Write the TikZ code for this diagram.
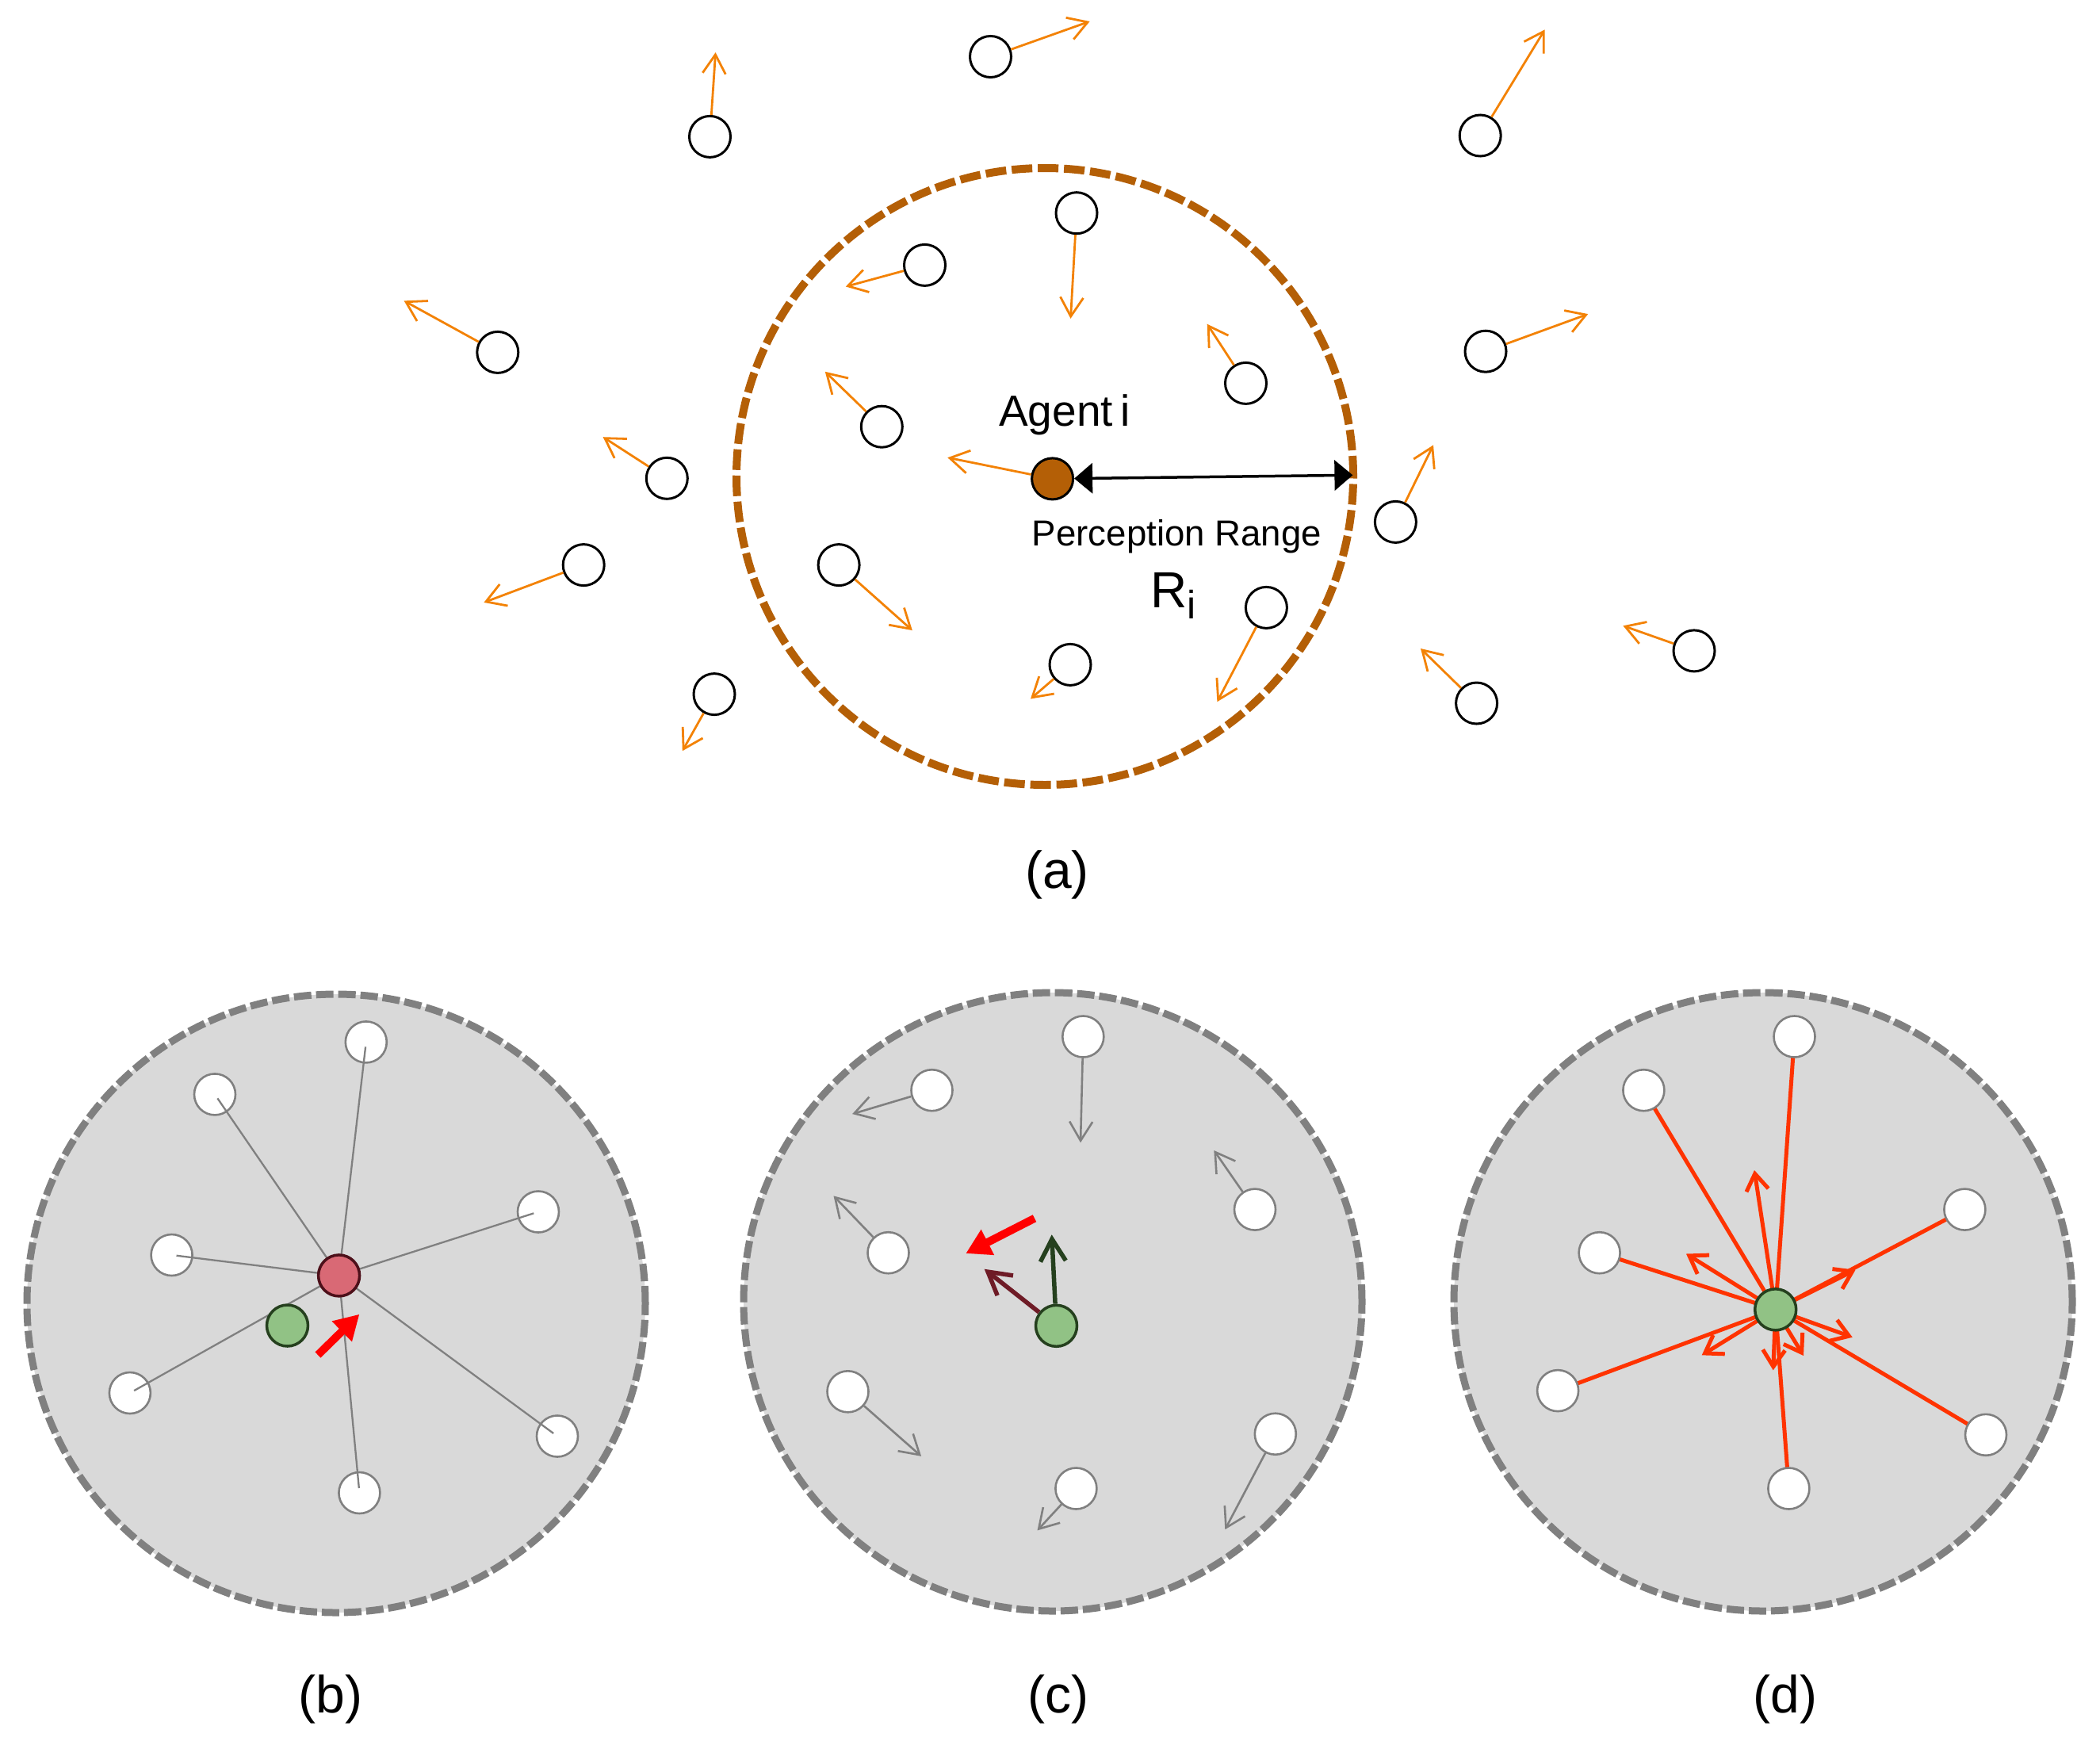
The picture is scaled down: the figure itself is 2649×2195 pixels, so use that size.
\documentclass[tikz,border=0pt]{standalone}
\usepackage{fontspec}
\setmainfont{Liberation Sans}
\usetikzlibrary{arrows.meta}
\definecolor{brn}{RGB}{180,95,6}
\definecolor{org}{RGB}{243,130,5}
\definecolor{gr}{RGB}{128,128,128}
\definecolor{lgr}{RGB}{217,217,217}
\definecolor{pinkn}{RGB}{217,105,117}
\definecolor{pinkb}{RGB}{77,16,26}
\definecolor{grn}{RGB}{145,194,133}
\definecolor{grnb}{RGB}{37,64,30}
\definecolor{dred}{RGB}{110,27,38}
\definecolor{rorg}{RGB}{255,51,0}
\tikzset{
  agent/.style={circle,draw=black,line width=3pt,fill=white,minimum size=52pt,inner sep=0pt},
  agenti/.style={agent,fill=brn},
  wnode/.style={circle,draw=gr,line width=2.6pt,fill=white,minimum size=52pt,inner sep=0pt},
  gnode/.style={circle,draw=grnb,line width=3.5pt,fill=grn,minimum size=52pt,inner sep=0pt},
  pnode/.style={circle,draw=pinkb,line width=3.5pt,fill=pinkn,minimum size=52pt,inner sep=0pt},
  oarr/.style={draw=org,line width=2.8pt,-{Straight Barb[length=24pt,width=29pt]}},
  garr/.style={draw=gr,line width=2.6pt,-{Straight Barb[length=24pt,width=29pt]}},
  darr/.style={draw=rorg,line width=5pt,-{Straight Barb[length=21pt,width=28pt]}},
  dline/.style={draw=rorg,line width=5pt},
  bline/.style={draw=gr,line width=2.3pt,shorten >=6pt},
  blockarr/.style={draw=red,line width=10pt,-{Triangle[length=31pt,width=34pt]}},
  thickarr/.style={line width=5.5pt,-{Straight Barb[length=28pt,width=32pt]}},
  panel/.style={draw=gr,fill=lgr,line width=9pt,dash pattern=on 22pt off 6pt},
  lbl/.style={inner sep=0pt,anchor=base,font=\fontsize{66pt}{70pt}\selectfont}
}
\begin{document}
\begin{tikzpicture}[x=1pt,y=-1pt]
\useasboundingbox (0,0) rectangle (2649,2195);

% ---------------- (a) ----------------
\draw[brn,line width=10pt,dash pattern=on 26pt off 7pt] (1318,601) circle[radius=389pt];
\foreach \n/\x/\y/\u/\v in {
  1/895.5/172.4/902.6/66.1,
  2/1249.5/71.5/1374.6/27,
  3/1867.2/171/1948.7/37.3,
  4/1358/268.7/1350.5/401.8,
  5/1166.5/334.4/1066.8/361.5,
  6/627.8/444.4/509.6/379.4,
  7/1874/443.2/2003.2/396.1,
  8/1571.5/483.4/1522.7/408.7,
  9/1112.3/538.2/1040.8/468.8,
  10/841.3/603.3/760.6/551.2,
  12/1760.4/658.4/1808/561.4,
  13/736.2/712.6/610.4/759.9,
  14/1058.1/712.6/1150.8/795.1,
  15/1597.4/766.4/1535.4/885.2,
  16/1350/838.4/1300/881.5,
  17/901/875.6/860.8/947.2,
  18/1862.6/887/1792/818,
  19/2137/820.9/2047.4/789.3}{
  \node[agent] (a\n) at (\x,\y) {};
  \coordinate (ta\n) at (\u,\v);
  \draw[oarr] (a\n) -- (ta\n);
}
\node[agenti] (ai) at (1327.6,603.9) {};
\coordinate (tai) at (1195.3,577.2);
\draw[oarr] (ai) -- (tai);
\coordinate (rr) at (1706.4,599.3);
\draw[line width=3.5pt,{Triangle[length=23pt,width=38pt]}-{Triangle[length=23pt,width=38pt]}] (ai) -- (rr);

\node[anchor=base west,inner sep=0pt,font=\fontsize{55pt}{60pt}\selectfont] (lag) at (1260,537) {Agent\hspace{0.18em}i};
\node[anchor=base,inner sep=0pt,font=\fontsize{45.6pt}{50pt}\selectfont] (lpr) at (1484.5,688) {Perception Range};
\node[anchor=base west,inner sep=0pt,font=\fontsize{64pt}{70pt}\selectfont] (lr) at (1451,766) {R\raisebox{-14pt}{\fontsize{50pt}{50pt}\selectfont i}};
\node[lbl] (la) at (1333.5,1120) {(a)};

% ---------------- (b) ----------------
\draw[panel] (424,1644) circle[radius=390pt];
\foreach \n/\x/\y in {1/461.8/1314.4, 2/271/1380.4, 3/679/1528.5, 4/216.6/1583,
  5/163.9/1757, 6/703/1811.5, 7/453.4/1883}{
  \node[wnode] (b\n) at (\x,\y) {};
}
\coordinate (bc) at (427.6,1608.9);
\foreach \n in {1,...,7}{ \draw[bline] (bc) -- (b\n.center); }
\node[pnode] (br) at (bc) {};
\node[gnode] (bg) at (362.5,1672) {};
\coordinate (bat) at (401,1709);
\coordinate (bah) at (453.4,1657.7);
\draw[blockarr] (bat) -- (bah);
\node[lbl] (lb) at (417,2160) {(b)};

% ---------------- (c) ----------------
\draw[panel] (1328,1642) circle[radius=390pt];
\foreach \n/\x/\y/\u/\v in {
  1/1366.3/1307.5/1363/1441.3,
  2/1175.5/1375.2/1075.1/1405.1,
  3/1583/1525.6/1531.3/1451,
  4/1120.5/1580.2/1051.5/1508.4,
  5/1069.5/1755.3/1162.1/1836.8,
  6/1608.8/1808.7/1545.3/1929.2,
  7/1357.4/1877.5/1308.5/1930.4}{
  \node[wnode] (c\n) at (\x,\y) {};
  \coordinate (tc\n) at (\u,\v);
  \draw[garr] (c\n) -- (tc\n);
}
\node[gnode] (cg) at (1332.5,1672.3) {};
\coordinate (cgt) at (1326.7,1557.3);
\coordinate (crt) at (1241.7,1600.7);
\draw[thickarr,draw=grnb] (cg) -- (cgt);
\draw[thickarr,draw=dred] (cg) -- (crt);
\coordinate (cat) at (1305,1536.7);
\coordinate (cah) at (1218.3,1581);
\draw[blockarr] (cat) -- (cah);
\node[lbl] (lc) at (1335,2160) {(c)};

% ---------------- (d) ----------------
\draw[panel] (2224,1642) circle[radius=390pt];
\coordinate (dc) at (2239.7,1651.8);
\foreach \n/\x/\y in {1/2263.5/1307.5, 2/2073.4/1375.2, 3/2478.4/1525.6, 4/2017.6/1580.2,
  5/1965.1/1754.1, 6/2505/1809.8, 7/2256.4/1877.5}{
  \coordinate (dp\n) at (\x,\y);
  \draw[dline] (dc) -- (dp\n);
}
\foreach \n/\x/\y in {1/2263.5/1307.5, 2/2073.4/1375.2, 3/2478.4/1525.6, 4/2017.6/1580.2,
  5/1965.1/1754.1, 6/2505/1809.8, 7/2256.4/1877.5}{
  \node[wnode] (d\n) at (\x,\y) {};
}
\foreach \n/\x/\y in {1/2213/1476, 2/2127/1581.5, 3/2340.5/1601.8, 4/2336.7/1686.7,
  5/2146.7/1709.3, 6/2275/1710, 7/2236.7/1728.3}{
  \coordinate (td\n) at (\x,\y);
  \draw[darr] (dc) -- (td\n);
}
\node[gnode] (dg) at (dc) {};
\node[lbl] (ld) at (2252,2160) {(d)};
\end{tikzpicture}
\end{document}
